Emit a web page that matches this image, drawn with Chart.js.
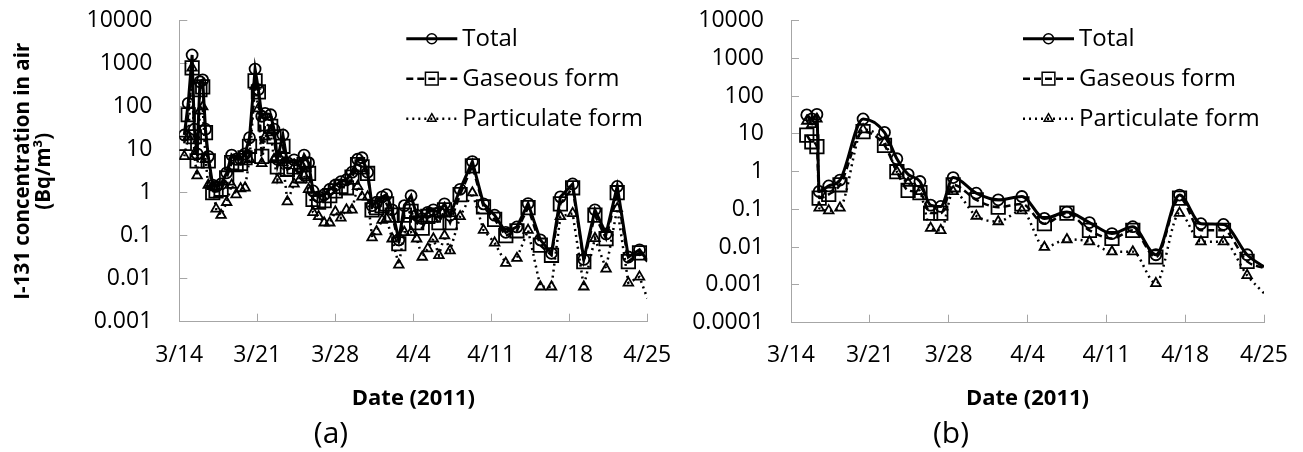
<!DOCTYPE html>
<html>
<head>
<meta charset="utf-8">
<script src="https://cdn.jsdelivr.net/npm/chart.js@4.4.1/dist/chart.umd.min.js"></script>
<style>
  html, body { margin: 0; padding: 0; background: #fff; }
  body { position: relative; width: 1303px; height: 452px; overflow: hidden; }
  canvas { position: absolute; top: 0; }
  #chart-a { left: -90px; }
  #chart-b { left: 638px; }
</style>
</head>
<body>
<canvas id="chart-a" width="842" height="452"></canvas>
<canvas id="chart-b" width="664" height="452"></canvas>
<script>
// days since 3/14 00:00
const seriesNames = ['Total', 'Gaseous form', 'Particulate form'];
const xTickDays = [0, 7, 14, 21, 28, 35, 42];
const xTickLabels = ['3/14', '3/21', '3/28', '4/4', '4/11', '4/18', '4/25'];
const yTicksA = [0.001, 0.01, 0.1, 1, 10, 100, 1000, 10000];
const yTicksB = [0.0001, 0.001, 0.01, 0.1, 1, 10, 100, 1000, 10000];

// panel (a)
const daysA = [0.45, 0.8, 1.15, 1.35, 1.6, 1.85, 2.1, 2.35, 2.6, 3.0, 3.3, 3.75, 4.25, 4.7, 5.1, 5.5, 5.9,
  6.3, 6.8, 7.1, 7.4, 7.7, 8.2, 8.5, 8.8, 9.3, 9.7, 10.3, 10.8, 11.2, 11.6, 12.0, 12.5, 13.0, 13.5,
  14.0, 14.5, 15.0, 15.5, 16.0, 16.4, 16.9, 17.3, 17.7, 18.2, 18.6, 19.1, 19.7, 20.2, 20.8, 21.3,
  21.8, 22.3, 22.8, 23.3, 23.8, 24.3, 25.2, 26.3, 27.3, 28.3, 29.3, 30.3, 31.3, 32.4, 33.4, 34.2,
  35.3, 36.3, 37.3, 38.3, 39.3, 40.3, 41.3, 42.0];
const totalA = [22, 120, 1600, 30, 8, 380, 420, 30, 7, 1.5, 1.4, 1.6, 2.9, 7.5, 6, 6, 8,
  19, 750, 250, 60, 70, 65, 30, 6, 22, 5, 5.8, 4, 7.5, 5, 1.1, 0.8, 0.9, 1.2,
  1.5, 1.8, 2.0, 3.0, 6, 6.5, 3, 0.5, 0.6, 0.8, 0.9, 0.4, 0.08, 0.5, 0.85, 0.3,
  0.25, 0.35, 0.4, 0.35, 0.55, 0.3, 1.2, 5.3, 0.55, 0.3, 0.12, 0.16, 0.56, 0.08, 0.039, 0.8,
  1.6, 0.028, 0.4, 0.11, 1.4, 0.032, 0.047, 0.027];
const gasA = [14, 65, 800, 20, 5.5, 250, 290, 25, 5.5, 1.0, 1.1, 1.2, 2.2, 5, 4.5, 4.8, 6.5,
  12, 400, 220, 7, 40, 35, 20, 4, 12, 3.5, 4, 2.5, 4.5, 2.8, 0.7, 0.6, 0.65, 0.85,
  1.1, 1.4, 1.3, 2.3, 4.5, 4, 2.8, 0.4, 0.45, 0.5, 0.55, 0.3, 0.065, 0.3, 0.37, 0.2,
  0.15, 0.28, 0.3, 0.2, 0.4, 0.2, 0.9, 4.2, 0.47, 0.24, 0.1, 0.13, 0.45, 0.06, 0.035, 0.55,
  1.3, 0.025, 0.3, 0.085, 1.0, 0.025, 0.04, 0.025];
const partA = [7, 20, 800, 7, 2.5, 80, 100, 6, 1.5, 1.4, 0.42, 0.3, 0.6, 1.5, 0.9, 1.25, 1.3,
  6, 300, 90, 4.8, 20, 25, 6, 2, 5, 0.62, 1.6, 2, 2.5, 1.2, 0.35, 0.28, 0.2, 0.2,
  0.36, 0.26, 0.4, 0.4, 1.4, 0.8, 0.8, 0.09, 0.125, 0.23, 0.25, 0.085, 0.021, 0.12, 0.12, 0.085,
  0.032, 0.05, 0.085, 0.035, 0.1, 0.045, 0.28, 1.0, 0.135, 0.068, 0.023, 0.03, 0.135, 0.0065, 0.0065, 0.28,
  0.33, 0.0065, 0.087, 0.017, 0.43, 0.008, 0.011, 0.0035];

// panel (b)
const daysB = [1.4, 1.85, 2.3, 2.5, 3.35, 4.35, 6.4, 8.3, 9.4, 10.4, 11.45, 12.4, 13.3, 14.4, 16.45,
  18.4, 20.5, 22.5, 24.5, 26.5, 28.5, 30.35, 32.4, 34.5, 36.4, 38.4, 40.5, 42.0];
const totalB = [32, 25, 33, 0.3, 0.42, 0.6, 25, 11, 2.2, 0.85, 0.55, 0.13, 0.12, 0.7, 0.27,
  0.18, 0.22, 0.058, 0.085, 0.045, 0.023, 0.035, 0.0063, 0.24, 0.042, 0.04, 0.0063, 0.003];
const gasB = [9.3, 6.2, 4.6, 0.2, 0.25, 0.45, 11.5, 5, 1.0, 0.32, 0.28, 0.08, 0.08, 0.45, 0.18,
  0.115, 0.14, 0.042, 0.08, 0.028, 0.017, 0.028, 0.0055, 0.2, 0.028, 0.028, 0.0042, 0.0028];
const partB = [22, 18, 25, 0.11, 0.093, 0.11, 13, 6, 1.0, 0.5, 0.3, 0.032, 0.028, 0.3, 0.067,
  0.048, 0.093, 0.01, 0.016, 0.014, 0.0076, 0.0076, 0.0011, 0.08, 0.014, 0.014, 0.0018, 0.0006];

const gray = '#a6a6a6';
Chart.defaults.font.family = '"Open Sans", sans-serif';
Chart.defaults.color = '#000';

const styles = [
  { borderWidth: 3, borderDash: [], pointStyle: 'circle', pointRadius: 5.5, legendRadius: 5 },
  { borderWidth: 2.5, borderDash: [7, 4], pointStyle: 'rect', pointRadius: 9.5, legendRadius: 9 },
  { borderWidth: 2.5, borderDash: [2, 4], pointStyle: 'triangle', pointRadius: 5.5, legendRadius: 5 }
];

const insideLegend = {
  id: 'insideLegend',
  afterDraw(chart) {
    const { ctx, chartArea } = chart;
    const x0 = chartArea.right - 241;
    const x1 = chartArea.right - 190;
    ctx.save();
    chart.data.datasets.forEach((ds, i) => {
      const y = chartArea.top + 18 + 40 * i;
      ctx.strokeStyle = '#000';
      ctx.fillStyle = 'rgba(0,0,0,0)';
      ctx.lineWidth = ds.borderWidth;
      ctx.setLineDash(ds.borderDash);
      ctx.beginPath();
      ctx.moveTo(x0, y);
      ctx.lineTo(x1, y);
      ctx.stroke();
      ctx.setLineDash([]);
      ctx.lineWidth = 1.5;
      Chart.helpers.drawPoint(ctx, { pointStyle: ds.pointStyle, rotation: 0, radius: ds.legendRadius, borderWidth: 1.5 }, (x0 + x1) / 2, y);
      ctx.fillStyle = '#000';
      ctx.font = '24px "Open Sans"';
      ctx.textBaseline = 'middle';
      ctx.textAlign = 'left';
      ctx.fillText(ds.label, x1 + 5, y);
    });
    ctx.restore();
  }
};

function makeChart(id, days, series, yTicks, p) {
  const n = days.length;
  const datasets = series.map((vals, i) => ({
    label: seriesNames[i],
    data: vals.map((v, k) => ({ x: days[k], y: v })),
    borderColor: '#000',
    borderWidth: styles[i].borderWidth,
    borderDash: styles[i].borderDash,
    pointStyle: styles[i].pointStyle,
    pointRadius: ctx => (ctx.dataIndex === n - 1 ? 0 : styles[i].pointRadius),
    legendRadius: styles[i].legendRadius,
    pointBorderColor: '#000',
    pointBorderWidth: 1.8,
    pointBackgroundColor: 'rgba(0,0,0,0)',
    backgroundColor: 'rgba(0,0,0,0)',
    fill: false,
    tension: p.tension,
    cubicInterpolationMode: p.tension ? 'monotone' : 'default'
  }));

  const scales = {
    x: {
      type: 'linear',
      min: 0,
      max: 42,
      afterBuildTicks: s => { s.ticks = xTickDays.map(v => ({ value: v })); },
      afterFit: s => { s.height = p.xHeight; s.paddingLeft = 0; s.paddingRight = 0; },
      ticks: {
        padding: p.xTickPad,
        autoSkip: false,
        maxRotation: 0,
        font: { size: 23 },
        callback: v => xTickLabels[xTickDays.indexOf(v)]
      },
      grid: { drawOnChartArea: false, tickLength: -8, color: gray },
      border: { color: gray },
      title: {
        display: true,
        text: 'Date (2011)',
        font: { size: 22, weight: 'bold' },
        padding: { top: 0, bottom: 4 }
      }
    },
    y: {
      type: 'logarithmic',
      min: yTicks[0],
      max: yTicks[yTicks.length - 1],
      afterBuildTicks: s => { s.ticks = yTicks.map(v => ({ value: v })); },
      afterFit: s => { s.width = p.yWidth; s.paddingTop = 0; s.paddingBottom = 0; },
      ticks: {
        padding: 35,
        autoSkip: false,
        font: { size: 23 },
        callback: v => String(v)
      },
      grid: { drawOnChartArea: false, tickLength: -8, color: gray },
      border: { color: gray },
      title: {
        display: p.yTitle,
        text: ['I-131 concentration in air', '(Bq/m\u00b3)'],
        font: { size: 20.5, weight: 'bold', lineHeight: 1.0 },
        padding: { top: p.yTitlePad, bottom: 0 }
      }
    }
  };
  if (p.rightSpace) {
    // empty right-hand box so the bottom label sits under the whole panel
    scales.yRight = {
      type: 'linear',
      position: 'right',
      ticks: { display: false },
      grid: { display: false },
      border: { display: false },
      afterFit: s => { s.width = p.rightSpace; s.paddingTop = 0; s.paddingBottom = 0; }
    };
  }

  return new Chart(document.getElementById(id), {
    type: 'line',
    data: { datasets },
    plugins: [insideLegend],
    options: {
      responsive: false,
      animation: false,
      events: [],
      layout: { padding: { left: 0, right: p.padRight, top: 20.7, bottom: 0 } },
      plugins: {
        legend: { display: false },
        tooltip: { enabled: false },
        title: {
          display: true,
          text: p.label,
          position: 'bottom',
          font: { size: 30, weight: 'normal', lineHeight: 1.2 },
          padding: { top: 0, bottom: 0 }
        }
      },
      scales
    }
  });
}

makeChart('chart-a', daysA, [totalA, gasA, partA], yTicksA,
  { label: '(a)', padRight: 0, rightSpace: 104.7, yWidth: 269.3, yTitlePad: 103, xHeight: 94.3, xTickPad: 27.5, yTitle: true, tension: 0 });
makeChart('chart-b', daysB, [totalB, gasB, partB], yTicksB,
  { label: '(b)', padRight: 38, rightSpace: 0, yWidth: 153, yTitlePad: 0, xHeight: 93.3, xTickPad: 26.5, yTitle: false, tension: 0.4 });
</script>
</body>
</html>
